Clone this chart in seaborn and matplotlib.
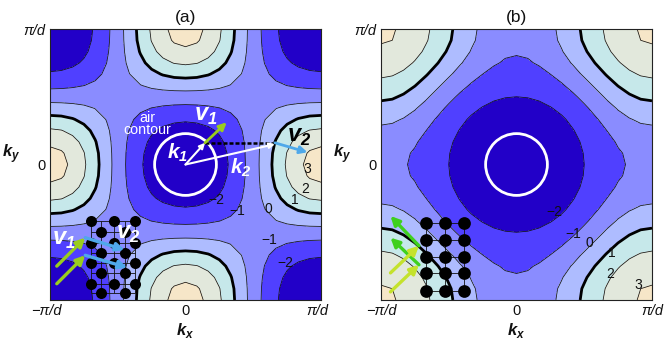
import numpy as np
import pandas as pd
import matplotlib
matplotlib.use('Agg')
import matplotlib.pyplot as plt
from matplotlib.patches import Circle
from matplotlib.transforms import ScaledTranslation
import seaborn as sns

# contour values, quadrant kx,ky = 0..pi/d in steps of pi/12
k_axis = [0, 1/12, 2/12, 3/12, 4/12, 5/12, 6/12, 7/12, 8/12, 9/12, 10/12, 11/12, 1]

band_a = [
    [-3.00, -2.93, -2.73, -2.39, -1.89, -1.24, -0.45, 0.42, 1.31, 2.14, 2.81, 3.25, 3.40],
    [-2.93, -2.87, -2.67, -2.33, -1.84, -1.21, -0.45, 0.39, 1.25, 2.04, 2.68, 3.10, 3.25],
    [-2.73, -2.67, -2.48, -2.17, -1.71, -1.13, -0.45, 0.30, 1.06, 1.75, 2.32, 2.68, 2.81],
    [-2.39, -2.33, -2.17, -1.89, -1.50, -1.01, -0.45, 0.16, 0.76, 1.31, 1.75, 2.04, 2.14],
    [-1.89, -1.84, -1.71, -1.50, -1.21, -0.85, -0.45, -0.03, 0.39, 0.76, 1.06, 1.25, 1.31],
    [-1.24, -1.21, -1.13, -1.01, -0.85, -0.66, -0.45, -0.23, -0.03, 0.16, 0.30, 0.39, 0.42],
    [-0.45, -0.45, -0.45, -0.45, -0.45, -0.45, -0.45, -0.45, -0.45, -0.45, -0.45, -0.45, -0.45],
    [0.42, 0.39, 0.30, 0.16, -0.03, -0.23, -0.45, -0.66, -0.85, -1.01, -1.13, -1.21, -1.24],
    [1.31, 1.25, 1.06, 0.76, 0.39, -0.03, -0.45, -0.85, -1.21, -1.50, -1.71, -1.84, -1.89],
    [2.14, 2.04, 1.75, 1.31, 0.76, 0.16, -0.45, -1.01, -1.50, -1.89, -2.17, -2.33, -2.39],
    [2.81, 2.68, 2.32, 1.75, 1.06, 0.30, -0.45, -1.13, -1.71, -2.17, -2.48, -2.67, -2.73],
    [3.25, 3.10, 2.68, 2.04, 1.25, 0.39, -0.45, -1.21, -1.84, -2.33, -2.67, -2.87, -2.93],
    [3.40, 3.25, 2.81, 2.14, 1.31, 0.42, -0.45, -1.24, -1.89, -2.39, -2.73, -2.93, -3.00],
]

band_b = [
    [-3.23, -3.19, -3.07, -2.87, -2.62, -2.32, -2.00, -1.68, -1.39, -1.13, -0.93, -0.81, -0.77],
    [-3.19, -3.15, -3.03, -2.83, -2.59, -2.29, -1.97, -1.64, -1.35, -1.08, -0.88, -0.75, -0.70],
    [-3.07, -3.03, -2.91, -2.73, -2.50, -2.20, -1.88, -1.54, -1.22, -0.92, -0.70, -0.56, -0.51],
    [-2.87, -2.83, -2.73, -2.57, -2.33, -2.04, -1.71, -1.35, -1.00, -0.68, -0.42, -0.25, -0.20],
    [-2.62, -2.59, -2.50, -2.33, -2.11, -1.82, -1.47, -1.09, -0.70, -0.34, -0.05, 0.14, 0.21],
    [-2.32, -2.29, -2.20, -2.04, -1.82, -1.52, -1.15, -0.74, -0.32, 0.08, 0.39, 0.60, 0.68],
    [-2.00, -1.97, -1.88, -1.71, -1.47, -1.15, -0.76, -0.33, 0.13, 0.53, 0.88, 1.11, 1.18],
    [-1.68, -1.64, -1.54, -1.35, -1.09, -0.74, -0.33, 0.13, 0.59, 1.03, 1.38, 1.61, 1.68],
    [-1.39, -1.35, -1.22, -1.00, -0.70, -0.32, 0.13, 0.59, 1.07, 1.51, 1.85, 2.07, 2.16],
    [-1.13, -1.08, -0.92, -0.68, -0.34, 0.08, 0.53, 1.03, 1.51, 1.93, 2.27, 2.49, 2.56],
    [-0.93, -0.88, -0.70, -0.42, -0.05, 0.39, 0.88, 1.38, 1.85, 2.27, 2.59, 2.79, 2.87],
    [-0.81, -0.75, -0.56, -0.25, 0.14, 0.60, 1.11, 1.61, 2.07, 2.49, 2.79, 3.00, 3.06],
    [-0.77, -0.70, -0.51, -0.20, 0.21, 0.68, 1.18, 1.68, 2.16, 2.56, 2.87, 3.06, 3.13],
]

levels = [-4, -2, -1, 0, 1, 2, 3, 4]
colors = ['#2200c8', '#5040ff', '#8a8cff', '#aebcff', '#c6e8ea', '#e2e8dc', '#f6e6c8']
air_radius = 0.228

# real space lattices, in units of pi/d
lattice_a_x = [-0.70, -0.62, -0.53, -0.45, -0.37]
lattice_a_y = [-0.42, -0.50, -0.58, -0.65, -0.73, -0.80, -0.88, -0.95]
lattice_b_x = [-0.67, -0.53, -0.39]
lattice_b_y = [-0.43, -0.56, -0.68, -0.80, -0.93]

k1_a = [(0, 0, 0.144, 0.16)]
k2_a = [(0, 0, 0.66, 0.15)]
v1_a_top = [(0.144, 0.16, 0.304, 0.311)]
v2_a_top = [(0.66, 0.16, 0.90, 0.09)]
v1_a = [(-0.95, -0.75, -0.74, -0.54), (-0.95, -0.88, -0.74, -0.67)]
v2_a = [(-0.74, -0.54, -0.45, -0.63), (-0.74, -0.67, -0.43, -0.76)]
v1_b = [(-0.93, -0.80, -0.72, -0.60), (-0.93, -0.94, -0.72, -0.74)]
v2_b = [(-0.72, -0.60, -0.93, -0.38), (-0.72, -0.74, -0.93, -0.54)]

labels_a = [('\u22122', 0.23, -0.26), ('\u22121', 0.38, -0.34), ('0', 0.61, -0.33), ('1', 0.81, -0.26),
            ('2', 0.88, -0.18), ('3', 0.90, -0.03), ('\u22121', 0.62, -0.56), ('\u22122', 0.74, -0.73)]
labels_b = [('\u22122', 0.28, -0.35), ('\u22121', 0.42, -0.51), ('0', 0.54, -0.58),
            ('1', 0.70, -0.65), ('2', 0.69, -0.81), ('3', 0.90, -0.89)]

sns.set_theme(style='ticks')
plt.rcParams['font.family'] = ['Liberation Sans', 'DejaVu Sans']
plt.rcParams['mathtext.fontset'] = 'custom'
plt.rcParams['mathtext.bf'] = 'Liberation Sans:bold:italic'
plt.rcParams['mathtext.rm'] = 'Liberation Sans:italic'


def full_grid(quadrant):
    q = np.array(quadrant)
    top = np.concatenate([q[:0:-1], q], axis=0)
    return np.concatenate([top[:, :0:-1], top], axis=1)


def arrows(ax, segs, color, lw=2.0, size=11):
    for x0, y0, x1, y1 in segs:
        ax.annotate('', xy=(x1, y1), xytext=(x0, y0),
                    arrowprops=dict(arrowstyle='-|>', color=color, lw=lw, mutation_scale=size,
                                    shrinkA=0, shrinkB=0), zorder=6)


def base_panel(ax, quadrant, title, labels):
    k = np.array(k_axis)
    grid = np.concatenate([-k[:0:-1], k])
    z = full_grid(quadrant)
    ax.contourf(grid, grid, z, levels=levels, colors=colors)
    ax.contour(grid, grid, z, levels=[-2, -1, 0, 2, 3], colors='#111111', linewidths=0.55, linestyles='solid')
    ax.contour(grid, grid, z, levels=[1], colors='black', linewidths=2.0, linestyles='solid')
    ax.add_patch(Circle((0, 0), air_radius, fill=False, ec='white', lw=2.0, zorder=5))
    ax.set_xlim(-1, 1)
    ax.set_ylim(-1, 1)
    ax.set_xticks([-1, 0, 1], ['\u2212\u03c0/d', '0', '\u03c0/d'], fontstyle='italic')
    ax.set_yticks([-1, 0, 1], ['', '0', '\u03c0/d'], fontstyle='italic')
    ax.get_xticklabels()[1].set_fontstyle('normal')
    ax.get_yticklabels()[1].set_fontstyle('normal')
    ax.tick_params(length=0, labelsize=10.5, pad=3, colors='#111111')
    ax.set_title(title, fontsize=12.5, pad=5, color='#111111')
    for side in ax.spines.values():
        side.set_linewidth(0.8)
        side.set_color('#222222')
    for s, x, y in labels:
        ax.text(x, y, s, fontsize=10, ha='center', va='center', color='#111111', zorder=7)


def lattice(ax, xs, ys, keep, size):
    pts = pd.DataFrame([(x, y) for j, y in enumerate(ys) for i, x in enumerate(xs) if keep(i, j)],
                       columns=['kx', 'ky'])
    ax.vlines(xs, min(ys), max(ys), color='#111111', lw=0.6, zorder=3)
    ax.hlines(ys, min(xs), max(xs), color='#111111', lw=0.6, zorder=3)
    sns.scatterplot(data=pts, x='kx', y='ky', ax=ax, color='black', s=size, linewidth=0, zorder=4)
    ax.set_xlabel(r'$\mathbf{k}_{\mathbf{x}}$', fontsize=12, labelpad=2, color='#111111')
    ax.set_ylabel(r'$\mathbf{k}_{\mathbf{y}}$', fontsize=12, rotation=0, labelpad=9, color='#111111')


fig = plt.figure(figsize=(6.64, 3.39), dpi=100)
ax_a = fig.add_axes([50 / 664, 1 - 300 / 339, 271 / 664, 271 / 339])
ax_b = fig.add_axes([381 / 664, 1 - 300 / 339, 271 / 664, 271 / 339])

base_panel(ax_a, band_a, '(a)', labels_a)
base_panel(ax_b, band_b, '(b)', labels_b)

lattice(ax_a, lattice_a_x, lattice_a_y, lambda i, j: (i + j) % 2 == 0, 63)
lattice(ax_b, lattice_b_x, lattice_b_y, lambda i, j: True, 84)

# end labels of panel a sit a little inside the frame
for lab in [ax_a.get_xticklabels()[0], ax_a.get_xticklabels()[2]]:
    lab.set_transform(lab.get_transform() + ScaledTranslation(-3.5 / 100, 0, fig.dpi_scale_trans))

ax_a.plot([0.144, 0.66], [0.16, 0.16], color='black', lw=1.8, ls=(0, (1.6, 0.8)), zorder=5)
arrows(ax_a, k1_a, 'white', lw=1.5, size=8)
arrows(ax_a, k2_a, 'white', lw=1.5, size=8)
arrows(ax_a, v1_a_top, '#9acd1e')
arrows(ax_a, v2_a_top, '#4fa8ea')
arrows(ax_a, v1_a, '#9acd1e', lw=2.4, size=13)
arrows(ax_a, v2_a, '#4fa8ea', lw=2.4, size=12)
arrows(ax_b, v2_b, '#3fd01e', lw=2.4, size=13)
arrows(ax_b, v1_b, '#c4e22c', lw=2.4, size=13)

note = dict(ha='center', va='center', zorder=8)
ax_a.text(-0.28, 0.30, 'air\ncontour', color='white', fontsize=10.3, linespacing=0.8, **note)
ax_a.text(-0.06, 0.09, r'$\mathbf{k}_{\mathbf{1}}$', color='white', fontsize=15, **note)
ax_a.text(0.41, -0.02, r'$\mathbf{k}_{\mathbf{2}}$', color='white', fontsize=15, **note)
ax_a.text(0.15, 0.36, r'$\mathbf{v}_{\mathbf{1}}$', color='white', fontsize=17, **note)
ax_a.text(0.84, 0.20, r'$\mathbf{v}_{\mathbf{2}}$', color='black', fontsize=17, **note)
ax_a.text(-0.90, -0.56, r'$\mathbf{v}_{\mathbf{1}}$', color='white', fontsize=17, **note)
ax_a.text(-0.42, -0.51, r'$\mathbf{v}_{\mathbf{2}}$', color='white', fontsize=17, **note)

plt.savefig('out.png', dpi=100)
